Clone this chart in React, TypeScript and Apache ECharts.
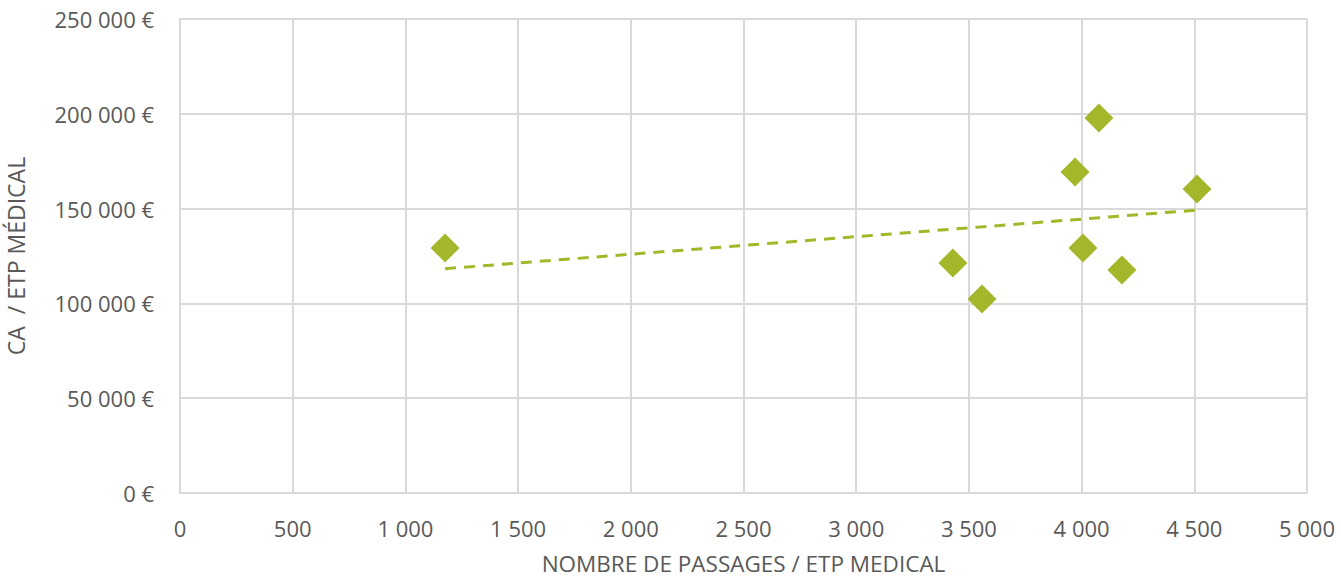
import React, { useEffect, useRef } from "react";
import * as echarts from "echarts";

const passages = [1176, 3429, 3558, 3971, 4077, 4006, 4179, 4512];
const caParEtp = [129200, 121300, 102300, 169300, 197800, 129200, 117600, 160300];
const trendX = [1176, 4512];
const trendY = [118300, 149200];

const GREEN = "#A4B72A";
const GRAY_TEXT = "#595959";
const GRID = "#D9D9D9";
const FONT = "'Open Sans', sans-serif";

const fmt = (v: number) => String(Math.round(v)).replace(/\B(?=(\d{3})+(?!\d))/g, " ");

export default function App() {
  const ref = useRef<HTMLDivElement>(null);
  useEffect(() => {
    document.body.style.margin = "0";
    const chart = echarts.init(ref.current!, undefined, { renderer: "svg" });
    chart.setOption({
      animation: false,
      backgroundColor: "#ffffff",
      textStyle: { fontFamily: FONT },
      grid: { left: 180, right: 34, top: 19, bottom: 87, containLabel: false, outerBoundsMode: "none" },
      xAxis: {
        type: "value",
        min: 0,
        max: 5000,
        interval: 500,
        name: "NOMBRE DE PASSAGES / ETP MEDICAL",
        nameLocation: "middle",
        nameGap: 59,
        nameTextStyle: { color: GRAY_TEXT, fontSize: 22.5, lineHeight: 22, fontFamily: FONT },
        axisLine: { show: true, lineStyle: { color: GRID, width: 2 } },
        axisTick: { show: false },
        axisLabel: { color: GRAY_TEXT, fontSize: 22, fontFamily: FONT, margin: 24, formatter: (v: number) => fmt(v) },
        splitLine: { show: true, lineStyle: { color: GRID, width: 2 } },
      },
      yAxis: {
        type: "value",
        min: 0,
        max: 250000,
        interval: 50000,
        name: "CA  / ETP MÉDICAL",
        nameLocation: "middle",
        nameGap: 152,
        nameRotate: 90,
        nameTextStyle: { color: GRAY_TEXT, fontSize: 23, lineHeight: 24, fontFamily: FONT },
        axisLine: { show: true, lineStyle: { color: GRID, width: 2 } },
        axisTick: { show: false },
        axisLabel: { color: GRAY_TEXT, fontSize: 22, fontFamily: FONT, margin: 26, formatter: (v: number) => fmt(v) + " €" },
        splitLine: { show: true, lineStyle: { color: GRID, width: 2 } },
      },
      series: [
        {
          type: "scatter",
          symbol: "diamond",
          symbolSize: [29, 29],
          itemStyle: { color: GREEN, opacity: 1 },
          data: passages.map((x, i) => [x, caParEtp[i]]),
          z: 3,
        },
        {
          type: "line",
          symbol: "none",
          lineStyle: { color: GREEN, width: 3, type: [11, 8] },
          data: trendX.map((x, i) => [x, trendY[i]]),
          z: 2,
        },
      ],
    });
    return () => chart.dispose();
  }, []);
  return <div ref={ref} style={{ width: 1341, height: 580 }} />;
}
